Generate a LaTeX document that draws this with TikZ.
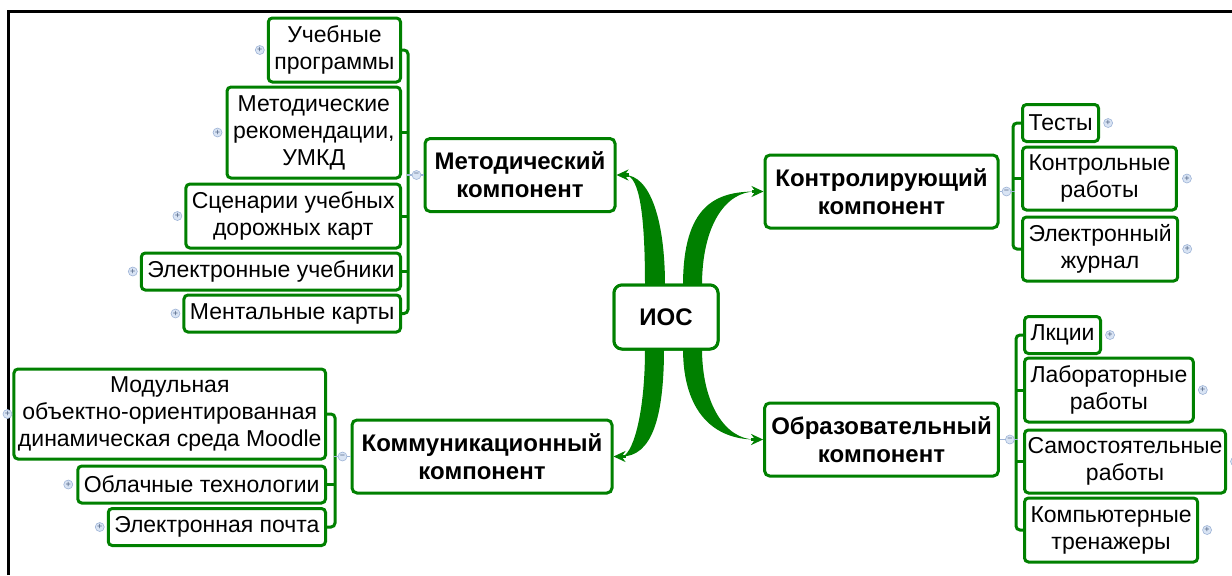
\documentclass[tikz,border=0pt]{standalone}
\usepackage{fontspec}
\setmainfont{Liberation Sans}
\usepackage{tikz}
\usetikzlibrary{arrows.meta,positioning,calc}
\definecolor{mapgreen}{HTML}{008000}
\definecolor{markfill}{HTML}{D9E4F4}
\definecolor{markdraw}{HTML}{9DB3D6}
\definecolor{marktext}{HTML}{4A5E80}
\tikzset{
  leafbox/.style={
    rectangle, rounded corners=2pt, draw=mapgreen, fill=white,
    line width=1.5pt, align=center, inner xsep=3pt, inner ysep=1pt,
    minimum height=18.5pt, font=\fontsize{11.5}{13.5}\selectfont
  },
  mainbox/.style={
    rectangle, rounded corners=2.5pt, draw=mapgreen, fill=white,
    line width=1.5pt, align=center, minimum width=116.5pt,
    minimum height=36.5pt, font=\bfseries\fontsize{12}{14}\selectfont
  },
  rootbox/.style={
    mainbox, minimum width=52pt, minimum height=32pt, rounded corners=4pt
  },
  marker/.style={
    circle, draw=markdraw, fill=markfill, line width=0.3pt,
    minimum size=4.5pt, inner sep=0pt, text=marktext,
    font=\fontsize{4.5}{4.5}\selectfont
  },
  bracket/.style={draw=mapgreen, line width=1.5pt, rounded corners=2pt},
  linkline/.style={draw=markdraw, line width=0.6pt},
  trunk/.style={fill=mapgreen},
  tipline/.style={draw=mapgreen, line width=1.6pt, -{Stealth[length=6pt,width=5.5pt]}},
}
\begin{document}
\begin{tikzpicture}[x=0.5pt,y=-0.5pt]
  \useasboundingbox (0,0) rectangle (1232,575);
  \draw[line width=1.5pt] (8,575) -- (8,11) -- (1232,11);

  %% Centre and components
  \node[rootbox] (ios) at (666,317) {ИОС};
  \node[mainbox, minimum width=95pt] (method) at (520,175) {Методический\\компонент};
  \node[mainbox] (ctrl) at (881.5,191.5) {Контролирующий\\компонент};
  \node[mainbox] (edu) at (881.5,439.5) {Образовательный\\компонент};
  \node[mainbox, minimum width=130pt] (comm) at (482,456.5) {Коммуникационный\\компонент};

  %% Methodical branch
  \node[leafbox, anchor=east, minimum height=32pt] (prog) at (402,50) {Учебные\\программы};
  \node[leafbox, anchor=east, minimum height=45.5pt] (rec) at (402,132.5) {Методические\\рекомендации,\\УМКД};
  \node[leafbox, anchor=east, minimum height=32pt] (scen) at (402,216) {Сценарии учебных\\дорожных карт};
  \node[leafbox, anchor=east] (ebook) at (402,271.5) {Электронные учебники};
  \node[leafbox, anchor=east] (maps) at (402,313.5) {Ментальные карты};

  %% Controlling branch
  \node[leafbox, anchor=west] (tests) at (1021,123) {Тесты};
  \node[leafbox, anchor=west, minimum height=31.5pt] (works) at (1021,178.5) {Контрольные\\работы};
  \node[leafbox, anchor=west, minimum height=32pt] (journal) at (1021,249) {Электронный\\журнал};

  %% Educational branch
  \node[leafbox, anchor=west] (lect) at (1023,335) {Лкции};
  \node[leafbox, anchor=west, minimum height=32pt] (lab) at (1023,390) {Лабораторные\\работы};
  \node[leafbox, anchor=west, minimum height=31.5pt, inner xsep=1.5pt] (self) at (1023,461.5) {Самостоятельные\\работы};
  \node[leafbox, anchor=west, minimum height=32pt] (trainer) at (1023,530) {Компьютерные\\тренажеры};

  %% Communication branch
  \node[leafbox, anchor=east, minimum height=45pt, inner xsep=2pt] (moodle) at (327,414) {Модульная\\объектно-ориентированная\\динамическая среда Moodle};
  \node[leafbox, anchor=east] (cloud) at (327,484.5) {Облачные технологии};
  \node[leafbox, anchor=east] (mail) at (327,527) {Электронная почта};

  %% Brackets
  \draw[bracket] (prog.east) -- ++(6,0) |- (maps.east);
  \foreach \n in {rec,scen,ebook} \draw[bracket] (\n.east) -- ++(6,0);
  \draw[bracket] (tests.west) -- ++(-8,0) |- (journal.west);
  \draw[bracket] (works.west) -- ++(-8,0);
  \draw[bracket] (lect.west) -- ++(-7,0) |- (trainer.west);
  \foreach \n in {lab,self} \draw[bracket] (\n.west) -- ++(-7,0);
  \draw[bracket] (moodle.east) -- ++(8,0) |- (mail.east);
  \draw[bracket] (cloud.east) -- ++(8,0);

  %% Links to parents with collapse markers
  \draw[linkline] (method.west) -- ++(-17,0);
  \node[marker] (mmeth) at ($(method.west)+(-7,0)$) {−};
  \draw[linkline] (ctrl.east) -- ++(15,0);
  \node[marker] (mctrl) at ($(ctrl.east)+(7,0)$) {−};
  \draw[linkline] (edu.east) -- ++(18,0);
  \node[marker] (medu) at ($(edu.east)+(10,0)$) {−};
  \draw[linkline] (comm.west) -- ++(-17,0);
  \node[marker] (mcomm) at ($(comm.west)+(-8,0)$) {−};

  %% Expand markers
  \node[marker] (mprog) at ($(prog.west)+(-7,0)$) {+};
  \node[marker] (mrec) at ($(rec.west)+(-8,0)$) {+};
  \node[marker] (mscen) at ($(scen.west)+(-7,0)$) {+};
  \node[marker] (mebook) at ($(ebook.west)+(-7,0)$) {+};
  \node[marker] (mmaps) at ($(maps.west)+(-7,0)$) {+};
  \node[marker] (mtests) at ($(tests.east)+(8,0)$) {+};
  \node[marker] (mworks) at ($(works.east)+(9,0)$) {+};
  \node[marker] (mjournal) at ($(journal.east)+(8,0)$) {+};
  \node[marker] (mlect) at ($(lect.east)+(8,0)$) {+};
  \node[marker] (mlab) at ($(lab.east)+(8,0)$) {+};
  \node[marker] (mself) at ($(self.east)+(8,0)$) {+};
  \node[marker] (mtrainer) at ($(trainer.east)+(8,0)$) {+};
  \node[marker] (mmoodle) at ($(moodle.west)+(-5,0)$) {+};
  \node[marker] (mcloud) at ($(cloud.west)+(-8,0)$) {+};
  \node[marker] (mmail) at ($(mail.west)+(-7,0)$) {+};

  %% Trunks from the centre
  \fill[trunk] ($(ios.north)+(-21,2)$) .. controls +(0,-87) and +(12,0) .. ($(method.east)+(8,0)$)
    .. controls +(25,0) and +(0,-67) .. ($(ios.north)+(-1,2)$) -- cycle;
  \fill[trunk] ($(ios.north)+(17,2)$) .. controls +(0,-80) and +(-40,0) .. ($(ctrl.west)+(-8,0)$)
    .. controls +(-30,0) and +(0,-60) .. ($(ios.north)+(36,2)$) -- cycle;
  \fill[trunk] ($(ios.south)+(-21,-2)$) .. controls +(0,70) and +(10,0) .. ($(comm.east)+(8,0)$)
    .. controls +(30,0) and +(0,70) .. ($(ios.south)+(-2,-2)$) -- cycle;
  \fill[trunk] ($(ios.south)+(17,-2)$) .. controls +(0,65) and +(-40,0) .. ($(edu.west)+(-8,0)$)
    .. controls +(-30,0) and +(0,55) .. ($(ios.south)+(36,-2)$) -- cycle;
  \draw[tipline] ($(method.east)+(12,0)$) -- (method.east);
  \draw[tipline] ($(ctrl.west)+(-12,0)$) -- (ctrl.west);
  \draw[tipline] ($(comm.east)+(12,0)$) -- (comm.east);
  \draw[tipline] ($(edu.west)+(-12,0)$) -- (edu.west);
  \node[rootbox] (iostop) at (ios) {ИОС};
\end{tikzpicture}
\end{document}
